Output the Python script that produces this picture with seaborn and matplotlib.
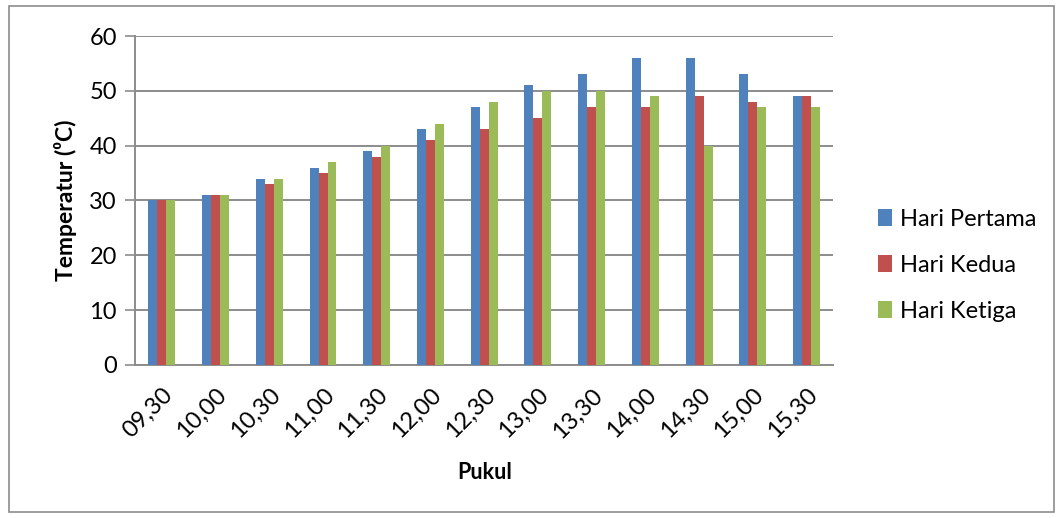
import matplotlib
matplotlib.use("Agg")
import matplotlib.pyplot as plt
from matplotlib.patches import Rectangle
import seaborn as sns
import pandas as pd

waktu = ["09,30", "10,00", "10,30", "11,00", "11,30", "12,00", "12,30",
         "13,00", "13,30", "14,00", "14,30", "15,00", "15,30"]
hari_pertama = [30, 31, 34, 36, 39, 43, 47, 51, 53, 56, 56, 53, 49]
hari_kedua = [30, 31, 33, 35, 38, 41, 43, 45, 47, 47, 49, 48, 49]
hari_ketiga = [30, 31, 34, 37, 40, 44, 48, 50, 50, 49, 40, 47, 47]
seri = ["Hari Pertama", "Hari Kedua", "Hari Ketiga"]
warna = ["#4F81BD", "#C0504D", "#9BBB59"]

df = pd.DataFrame({
    "Pukul": waktu * 3,
    "Temperatur": hari_pertama + hari_kedua + hari_ketiga,
    "Hari": [seri[0]] * len(waktu) + [seri[1]] * len(waktu) + [seri[2]] * len(waktu),
})

sns.set_theme(style="white")
plt.rcParams["font.family"] = ["Lato", "DejaVu Sans"]
plt.rcParams["text.color"] = "black"
plt.rcParams["axes.labelcolor"] = "black"
plt.rcParams["xtick.color"] = "black"
plt.rcParams["ytick.color"] = "black"

fig = plt.figure(figsize=(10.63, 5.18), dpi=100)
ax = fig.add_axes([0.127, 0.2954, 0.657, 0.6351])

sns.barplot(data=df, x="Pukul", y="Temperatur", hue="Hari", order=waktu,
            hue_order=seri, palette=warna, width=0.5, saturation=1,
            edgecolor="none", linewidth=0, ax=ax, zorder=3)

ax.set_ylim(0, 60)
ax.set_yticks(range(0, 61, 10))
ax.set_xlim(-0.5, len(waktu) - 0.5)
ax.yaxis.grid(True, color="#8c8c8c", linewidth=1.4, zorder=0)
ax.set_axisbelow(True)
for s in ["top", "right"]:
    ax.spines[s].set_visible(False)
for s in ["left", "bottom"]:
    ax.spines[s].set_color("#8c8c8c")
    ax.spines[s].set_linewidth(1.4)

ax.tick_params(axis="y", length=7, width=1.2, color="#8c8c8c",
               labelcolor="black", labelsize=17, pad=6, left=True)
ax.tick_params(axis="x", length=0, labelsize=17, labelcolor="black", pad=14)
plt.setp(ax.get_xticklabels(), rotation=45, ha="right", rotation_mode="anchor")

ax.set_xlabel("Pukul", fontsize=15.5, fontweight="bold", labelpad=14)
ax.set_ylabel("Temperatur (⁰C)", fontsize=16.5, fontweight="bold", labelpad=9)

handles, labels = ax.get_legend_handles_labels()
fig.legend(handles, labels, loc="center left", bbox_to_anchor=(0.806, 0.488),
           frameon=False, fontsize=17, handlelength=0.6, handleheight=0.75,
           handletextpad=0.35, labelspacing=1.05)
ax.get_legend().remove()

fig.patches.append(Rectangle((0.008, 0.012), 0.984, 0.976, transform=fig.transFigure,
                             fill=False, edgecolor="#8c8c8c", linewidth=1.2))

fig.savefig("out.png", dpi=100)
